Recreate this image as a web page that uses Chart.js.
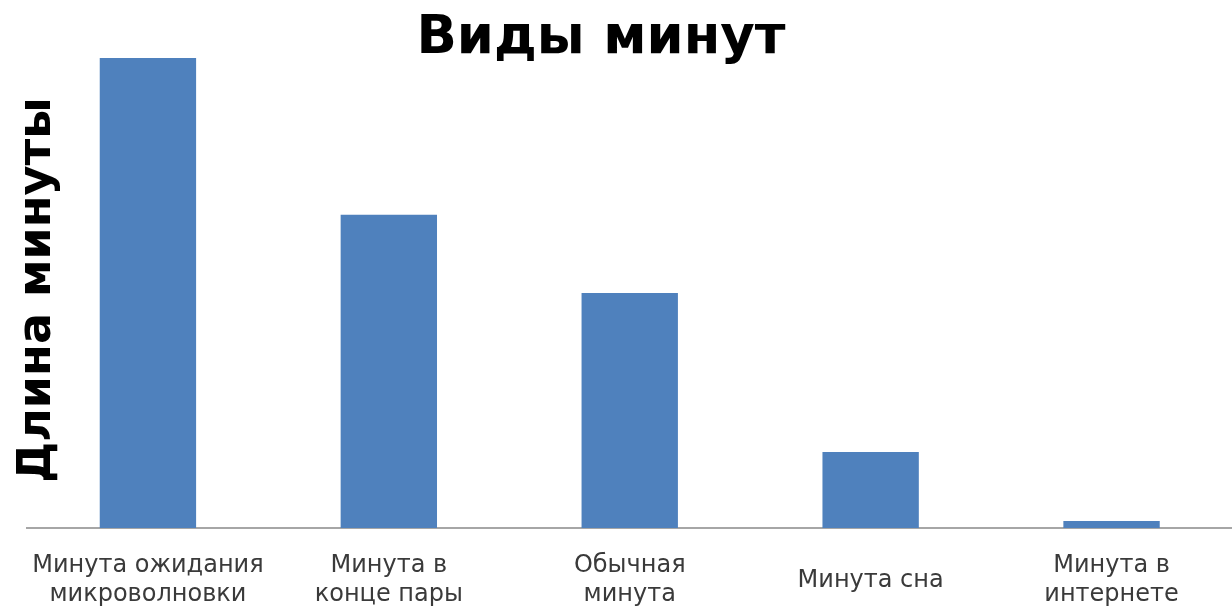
<!DOCTYPE html>
<html>
<head>
<meta charset="utf-8">
<script src="https://cdn.jsdelivr.net/npm/chart.js@4.4.0/dist/chart.umd.min.js"></script>
<style>
  html, body { margin: 0; padding: 0; background: #fff; }
  #wrap { width: 1232px; height: 607px; position: relative; }
</style>
</head>
<body>
<div id="wrap"><canvas id="c"></canvas></div>
<script>
// ── Виды минут — data ──
const categories = [
    ['Минута ожидания', 'микроволновки'],
    ['Минута в', 'конце пары'],
    ['Обычная', 'минута'],
    'Минута сна',
    ['Минута в', 'интернете']
];
const minuteLength = [6, 4, 3, 0.97, 0.09];

const chartTitle = 'Виды минут';
const yTitle = 'Длина минуты';

// both titles overlap the plot box in the original, so draw them by hand
const titlesPlugin = {
    id: 'titles',
    afterDraw(chart) {
        const { ctx } = chart;
        ctx.save();
        ctx.fillStyle = '#000';
        ctx.textAlign = 'center';
        ctx.textBaseline = 'middle';

        ctx.font = 'bold 53px "DejaVu Sans"';
        ctx.fillText(chartTitle, 601, 39);

        ctx.translate(38, 290);
        ctx.rotate(-Math.PI / 2);
        ctx.font = 'bold 46px "DejaVu Sans"';
        ctx.fillText(yTitle, 0, 0);
        ctx.restore();
    }
};

new Chart(document.getElementById('c'), {
    type: 'bar',
    data: {
        labels: categories,
        datasets: [{
            data: minuteLength,
            backgroundColor: '#4f81bd',
            barPercentage: 0.4,
            categoryPercentage: 1
        }]
    },
    options: {
        responsive: true,
        maintainAspectRatio: false,
        animation: false,
        layout: { padding: { left: 22, right: 0, top: 58, bottom: 0 } },
        plugins: {
            legend: { display: false },
            tooltip: { enabled: false },
            title: { display: false }
        },
        scales: {
            x: {
                grid: { display: false },
                border: { display: true, color: '#a6a6a6', width: 2 },
                ticks: {
                    color: '#3a3a3a',
                    font: { family: 'DejaVu Sans', size: 24, lineHeight: 1.2 },
                    maxRotation: 0,
                    autoSkip: false,
                    crossAlign: 'center',
                    padding: 30
                },
                afterFit(scale) { scale.height = 79; }
            },
            y: {
                display: false,
                min: 0,
                max: 6
            }
        }
    },
    plugins: [titlesPlugin]
});
</script>
</body>
</html>
